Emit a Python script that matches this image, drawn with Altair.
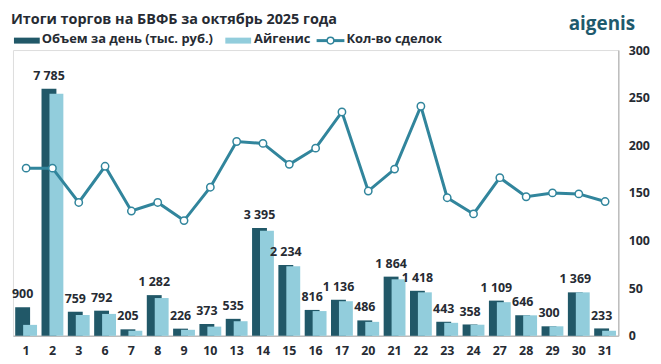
import altair as alt
import pandas as pd

days = ["1", "2", "3", "6", "7", "8", "9", "10", "13", "14", "15", "16", "17",
        "20", "21", "22", "23", "24", "27", "28", "29", "30", "31"]
volume = [900, 7785, 759, 792, 205, 1282, 226, 373, 535, 3395, 2234, 816, 1136,
          486, 1864, 1418, 443, 358, 1109, 646, 300, 1369, 233]
aigenis = [345, 7625, 656, 690, 160, 1190, 190, 290, 460, 3310, 2190, 780, 1090,
           440, 1780, 1370, 410, 350, 1060, 646, 300, 1369, 160]
deals = [176, 176, 140, 178, 131, 140, 121, 156, 204, 202, 180, 197, 235,
         152, 175, 241, 145, 128, 166, 146, 150, 149, 141]

df = pd.DataFrame({
    "day": days,
    "volume": volume,
    "aigenis": aigenis,
    "deals": deals,
    "label": [f"{v:,}".replace(",", " ") for v in volume],
})

DARK = "#215868"
LIGHT = "#92CDDC"
LINE = "#31859C"
TXT = "#262b33"
FONT = "Open Sans"

x = alt.X("day:N", sort=days, title=None,
          scale=alt.Scale(paddingInner=0, paddingOuter=0),
          axis=alt.Axis(labelAngle=0, labelFont=FONT, labelFontSize=12.5,
                        labelFontWeight="bold", labelColor=TXT, ticks=False,
                        tickSize=0, labelPadding=9, domainColor="#bdbdbd",
                        domainWidth=1.5, grid=False))

yl = alt.Scale(domain=[0, 9000])
base = alt.Chart(df)

dark = base.mark_bar(color=DARK, width=15, xOffset=-3.5).encode(
    x=x, y=alt.Y("volume:Q", scale=yl, axis=None))
light = base.mark_bar(color=LIGHT, width=14, xOffset=4).encode(
    x=x, y=alt.Y("aigenis:Q", scale=yl, axis=None))
labels = base.mark_text(font=FONT, fontSize=12.5, fontWeight="bold", color=TXT,
                        baseline="bottom", dy=-6, xOffset=-3.5).encode(
    x=x, y=alt.Y("volume:Q", scale=yl, axis=None), text="label:N")
left = alt.layer(dark, light, labels)

yr = alt.Y("deals:Q", title=None, scale=alt.Scale(domain=[0, 300]),
           axis=alt.Axis(orient="right", values=[0, 50, 100, 150, 200, 250, 300],
                         grid=False, ticks=False, tickSize=0, labelPadding=10,
                         labelFont=FONT, labelFontSize=12.5, labelFontWeight="bold",
                         labelColor=TXT, domainColor="#bdbdbd", domainWidth=1.5))
line = base.mark_line(color=LINE, strokeWidth=3).encode(x=x, y=yr)
pts = base.mark_point(filled=True, fill="white", stroke=LINE, strokeWidth=1.5,
                      size=55, opacity=1).encode(x=x, y=yr)
right = alt.layer(line, pts)

one = alt.Chart(pd.DataFrame({"a": [0]}))

def txt(s, xp, yp, size, color=TXT, align="left"):
    return one.mark_text(text=s, font=FONT, fontSize=size, fontWeight="bold",
                         color=color, align=align, baseline="alphabetic").encode(
        x=alt.value(xp), y=alt.value(yp))

LY = -7
title = txt("Итоги торгов на БВФБ за октябрь 2025 года", -2, -26, 14.5)
logo = txt("aigenis", 627, -20, 19, color="#1e5a6d", align="right")
leg1r = one.mark_rect(color=DARK).encode(x=alt.value(1), x2=alt.value(27),
                                         y=alt.value(LY - 5.5), y2=alt.value(LY + 0.5))
leg1t = txt("Объем за день (тыс. руб.)", 29, LY, 13)
leg2r = one.mark_rect(color=LIGHT).encode(x=alt.value(214), x2=alt.value(240),
                                          y=alt.value(LY - 5.5), y2=alt.value(LY + 0.5))
leg2t = txt("Айгенис", 243, LY, 13)
leg3l = one.mark_rule(color=LINE, strokeWidth=3).encode(
    x=alt.value(306), x2=alt.value(334), y=alt.value(LY - 2.5))
leg3p = one.mark_point(filled=True, fill="white", stroke=LINE, strokeWidth=1.5,
                       size=45, opacity=1).encode(x=alt.value(320), y=alt.value(LY - 2.5))
leg3t = txt("Кол-во сделок", 336, LY, 13)

chart = alt.layer(left, right, title, logo, leg1r, leg1t, leg2r, leg2t,
                  leg3l, leg3p, leg3t).resolve_scale(y="independent").properties(
    width=610, height=288,
    autosize=alt.AutoSizeParams(type="none"),
    padding={"left": 5, "top": 41, "right": 35, "bottom": 25},
).configure_view(stroke=None).configure(background="white")

chart.save("out.html", embed_options={"renderer": "svg", "actions": False})
